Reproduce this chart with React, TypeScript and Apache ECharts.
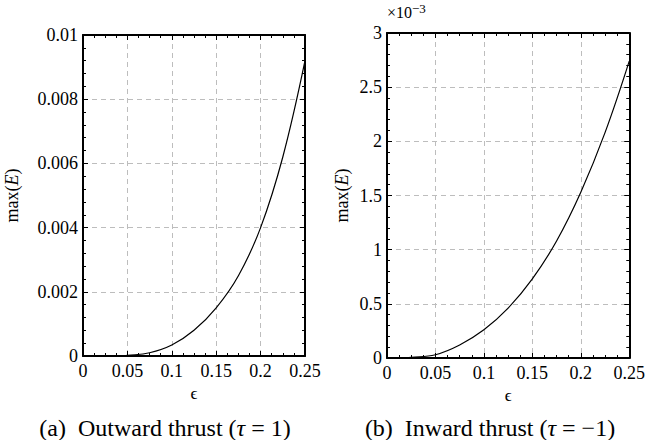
import React, { useEffect, useRef } from "react";
import * as echarts from "echarts";

const epsA = [0, 0.04, 0.05, 0.075, 0.1, 0.125, 0.15, 0.175, 0.2, 0.225, 0.25];
const maxEA = [0, 0, 0.00002, 0.0001, 0.00034, 0.0008, 0.0015, 0.0025, 0.004, 0.0062, 0.0092];

const epsB = [0, 0.015, 0.025, 0.05, 0.075, 0.1, 0.125, 0.15, 0.175, 0.2, 0.225, 0.25];
const maxEB = [0, 0, 0.005, 0.03, 0.12, 0.26, 0.46, 0.73, 1.08, 1.53, 2.08, 2.74];

const xTicks = ["0", "0.05", "0.1", "0.15", "0.2", "0.25"];
const yTicksA = ["0", "0.002", "0.004", "0.006", "0.008", "0.01"];
const yTicksB = ["0", "0.5", "1", "1.5", "2", "2.5", "3"];

const FONT = "'Liberation Serif', 'DejaVu Serif', serif";

export default function App() {
  const ref = useRef<HTMLDivElement>(null);
  useEffect(() => {
    if (!ref.current) return;
    const chart = echarts.init(ref.current, undefined, { renderer: "svg" });

    const grids = [
      { left: 83, top: 35, width: 222, height: 321 },
      { left: 387, top: 33, width: 243, height: 325 },
    ];

    const lineStyle = { color: "#000", width: 2 };
    const tick = { show: true, inside: true, length: 5, lineStyle: { color: "#000", width: 1 } };
    const split = { show: true, lineStyle: { color: "#bdbdbd", width: 1, type: [5, 4] as any } };

    const xAxisBase = (gi: number, pos: "bottom" | "top") => ({
      type: "value",
      gridIndex: gi,
      position: pos,
      min: 0,
      max: 0.25,
      interval: 0.05,
      axisLine: { show: true, onZero: false, lineStyle },
      axisTick: tick,
      minorTick: { show: true, splitNumber: 4, length: 3, lineStyle: { color: "#000", width: 1 } },
      splitLine: pos === "bottom" ? split : { show: false },
      axisLabel:
        pos === "bottom"
          ? {
              show: true,
              color: "#000",
              fontFamily: FONT,
              fontSize: 18,
              margin: 6,
              showMinLabel: true,
              showMaxLabel: true,
              formatter: (v: number) => xTicks[Math.round(v / 0.05)] ?? "",
            }
          : { show: false },
      name: pos === "bottom" ? "ϵ" : "",
      nameLocation: "middle",
      nameGap: 24,
      nameTextStyle: { color: "#000", fontFamily: FONT, fontSize: 17 },
    });

    const yAxisBase = (gi: number, pos: "left" | "right") => {
      const isA = gi === 0;
      const max = isA ? 0.01 : 3;
      const interval = isA ? 0.002 : 0.5;
      const labels = isA ? yTicksA : yTicksB;
      return {
        type: "value",
        gridIndex: gi,
        position: pos,
        min: 0,
        max,
        interval,
        axisLine: { show: true, onZero: false, lineStyle },
        axisTick: tick,
        minorTick: { show: true, splitNumber: 5, length: 3, lineStyle: { color: "#000", width: 1 } },
        splitLine: pos === "left" ? split : { show: false },
        axisLabel:
          pos === "left"
            ? {
                show: true,
                color: "#000",
                fontFamily: FONT,
                fontSize: 18,
                margin: 5,
                showMinLabel: true,
                showMaxLabel: true,
                formatter: (v: number) => labels[Math.round(v / interval)] ?? "",
              }
            : { show: false },
        name: pos === "left" ? "max({i|E})" : "",
        nameLocation: "middle",
        nameRotate: 90,
        nameGap: isA ? 62 : 36,
        nameTextStyle: {
          color: "#000",
          fontFamily: FONT,
          fontSize: 18,
          rich: { i: { fontStyle: "italic", fontFamily: FONT, fontSize: 18, color: "#000" } },
        },
      };
    };

    const option: any = {
      animation: false,
      backgroundColor: "#fff",
      grid: grids,
      xAxis: [xAxisBase(0, "bottom"), xAxisBase(0, "top"), xAxisBase(1, "bottom"), xAxisBase(1, "top")],
      yAxis: [yAxisBase(0, "left"), yAxisBase(0, "right"), yAxisBase(1, "left"), yAxisBase(1, "right")],
      series: [
        {
          type: "line",
          xAxisIndex: 0,
          yAxisIndex: 0,
          data: epsA.map((e, i) => [e, maxEA[i]]),
          smooth: 0.4,
          showSymbol: false,
          lineStyle: { color: "#000", width: 1.2 },
          z: 3,
        },
        {
          type: "line",
          xAxisIndex: 2,
          yAxisIndex: 2,
          data: epsB.map((e, i) => [e, maxEB[i]]),
          smooth: 0.4,
          showSymbol: false,
          lineStyle: { color: "#000", width: 1.2 },
          z: 3,
        },
      ],
      graphic: [
        {
          type: "text",
          left: 387,
          top: 2,
          style: {
            text: "×10{s|−3}",
            fontFamily: FONT,
            fontSize: 16,
            fill: "#000",
            rich: { s: { fontSize: 13, verticalAlign: "top", padding: [0, 0, 8, 0], fontFamily: FONT, fill: "#000" } },
          },
        },
        {
          type: "text",
          x: 165,
          y: 428,
          style: {
            text: "(a)  Outward thrust ({i|τ} = 1)",
            fontFamily: FONT,
            fontSize: 24,
            fill: "#000",
            align: "center",
            verticalAlign: "middle",
            rich: { i: { fontStyle: "italic", fontFamily: FONT, fontSize: 24, fill: "#000" } },
          },
        },
        {
          type: "text",
          x: 490,
          y: 428,
          style: {
            text: "(b)  Inward thrust ({i|τ} = −1)",
            fontFamily: FONT,
            fontSize: 24,
            fill: "#000",
            align: "center",
            verticalAlign: "middle",
            rich: { i: { fontStyle: "italic", fontFamily: FONT, fontSize: 24, fill: "#000" } },
          },
        },
      ],
    };
    chart.setOption(option);
    return () => chart.dispose();
  }, []);
  return (
    <div
      ref={ref}
      style={{ position: "fixed", left: 0, top: 0, width: 648, height: 440, background: "#fff" }}
    />
  );
}
